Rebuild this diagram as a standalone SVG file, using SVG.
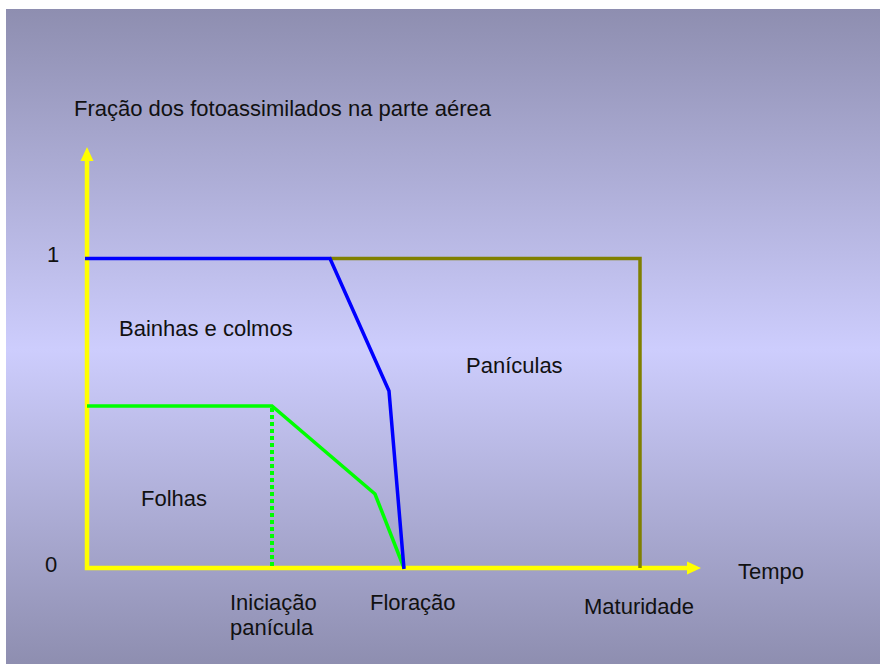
<svg xmlns="http://www.w3.org/2000/svg" width="880" height="664" viewBox="0 0 880 664">
  <defs>
    <linearGradient id="bg" x1="0" y1="0" x2="0" y2="1">
      <stop offset="0" stop-color="#8e8eb0"/>
      <stop offset="0.52" stop-color="#cdcdfd"/>
      <stop offset="1" stop-color="#8e8eb0"/>
    </linearGradient>
    <style>
      text { font-family: "Liberation Sans", Arial, sans-serif; font-size: 22px; fill: #111; }
      .axis { stroke: #ffff00; stroke-width: 4.5; fill: none; }
      .head { fill: #ffff00; }
      .blue { stroke: #0000ff; stroke-width: 3.5; fill: none; stroke-linejoin: miter; }
      .green { stroke: #00ff00; stroke-width: 3.5; fill: none; }
      .olive { stroke: #808000; stroke-width: 3.5; fill: none; }
      .dot { stroke: #00ff00; stroke-width: 4; stroke-dasharray: 4 3; fill: none; }
    </style>
  </defs>
  <rect x="0" y="0" width="880" height="664" fill="#ffffff"/>
  <rect x="6" y="9" width="874" height="655" fill="url(#bg)"/>

  <g id="connectors">
    <g id="axes">
      <polyline class="axis" points="87,160 87,568 689,568"/>
      <polygon class="head" points="87,147 80.5,161 93.5,161"/>
      <polygon class="head" points="701,568 687,561.5 687,574.5"/>
    </g>
    <polyline id="paniculas-boundary" class="olive" points="330,258.5 640,258.5 640,568"/>
    <line id="iniciacao-marker" class="dot" x1="272" y1="408" x2="272" y2="566"/>
    <polyline id="folhas-curve" class="green" points="87,406 272,406 375,494 404,568"/>
    <polyline id="bainhas-curve" class="blue" points="85,258.5 330,258.5 389,391 404,569"/>
  </g>

  <g id="label-yaxis"><text x="74" y="116">Fração dos fotoassimilados na parte aérea</text></g>
  <g id="label-1"><text x="47" y="262">1</text></g>
  <g id="label-0"><text x="45" y="572">0</text></g>
  <g id="label-bainhas"><text x="119" y="336">Bainhas e colmos</text></g>
  <g id="label-paniculas"><text x="466" y="373">Panículas</text></g>
  <g id="label-folhas"><text x="141" y="506">Folhas</text></g>
  <g id="label-tempo"><text x="738" y="579">Tempo</text></g>
  <g id="label-iniciacao"><text x="230" y="610">Iniciação</text><text x="230" y="635">panícula</text></g>
  <g id="label-floracao"><text x="370" y="610">Floração</text></g>
  <g id="label-maturidade"><text x="584" y="614">Maturidade</text></g>
</svg>
